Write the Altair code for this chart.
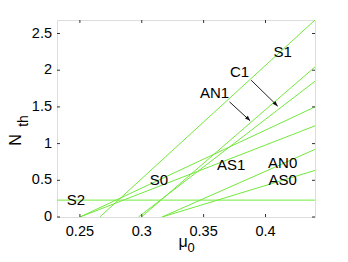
import altair as alt
import pandas as pd

# Threshold lines: each from (mu_a, n_a) to (mu_b, n_b)
names = ["S1", "S0", "C1", "AN1", "AS1", "AN0", "AS0", "S2"]
mu_a = [0.2661, 0.2500, 0.2997, 0.2973, 0.2500, 0.3164, 0.3164, 0.2315]
n_a = [0.0, 0.0, 0.0, 0.0, 0.0, 0.0, 0.0, 0.23]
mu_b = [0.44, 0.44, 0.44, 0.44, 0.44, 0.44, 0.44, 0.44]
n_b = [2.684, 1.50, 2.045, 1.85, 1.242, 0.921, 0.635, 0.23]

# Labels
lab_text = ["S1", "C1", "AN1", "S0", "AS1", "AN0", "AS0", "S2"]
lab_mu = [0.4139, 0.3790, 0.3588, 0.3139, 0.3723, 0.4139, 0.4139, 0.2468]
lab_n = [2.249, 1.977, 1.683, 0.503, 0.707, 0.730, 0.503, 0.231]

# Arrows (start -> end)
arr_mu0 = [0.3884, 0.3709]
arr_n0 = [1.864, 1.569]
arr_mu1 = [0.4099, 0.3876]
arr_n1 = [1.510, 1.310]

x_ticks = [0.25, 0.3, 0.35, 0.4]
x_tick_labels = ["0.25", "0.3", "0.35", "0.4"]
y_ticks = [0.0, 0.5, 1.0, 1.5, 2.0, 2.5]
y_tick_labels = ["0", "0.5", "1", "1.5", "2", "2.5"]

XD = [0.2315, 0.44]
YD = [0, 2.684]
W, H = 258, 197

rows = []
for nm, a, b, c, d in zip(names, mu_a, n_a, mu_b, n_b):
    rows.append({"name": nm, "mu": a, "n": b, "o": 0})
    rows.append({"name": nm, "mu": c, "n": d, "o": 1})
lines_df = pd.DataFrame(rows)
lab_df = pd.DataFrame({"t": lab_text, "mu": lab_mu, "n": lab_n})
arr_df = pd.DataFrame({"mu0": arr_mu0, "n0": arr_n0, "mu1": arr_mu1, "n1": arr_n1})
xt_df = pd.DataFrame({"v": x_ticks, "t": x_tick_labels})
yt_df = pd.DataFrame({"v": y_ticks, "t": y_tick_labels})

xs = alt.Scale(domain=XD, nice=False, zero=False)
ys = alt.Scale(domain=YD, nice=False, zero=False)
FONT = "Liberation Sans"
AX = "#333333"

X = lambda f: alt.X(f, type="quantitative", scale=xs, axis=None)
Y = lambda f: alt.Y(f, type="quantitative", scale=ys, axis=None)

lines = alt.Chart(lines_df).mark_line(color="#72e83c", strokeWidth=1, clip=True).encode(
    x=X("mu"), y=Y("n"), detail="name:N", order="o:Q")

labels = alt.Chart(lab_df).mark_text(font=FONT, fontSize=15, color="black",
                                     align="center", baseline="middle").encode(
    x=X("mu"), y=Y("n"), text="t:N")

shafts = alt.Chart(arr_df).mark_rule(color="#222222", strokeWidth=1).encode(
    x=X("mu0"), y=Y("n0"), x2="mu1:Q", y2="n1:Q")

heads = alt.Chart(arr_df).mark_point(shape="M0,0L-0.38,1L0.38,1Z", filled=True,
                                     color="#111111", size=110, angle=135, opacity=1).encode(
    x=X("mu1"), y=Y("n1"))

# inward ticks on all four sides
xt_bot = alt.Chart(xt_df).mark_rule(color=AX, strokeWidth=1).encode(
    x=X("v"), y=alt.value(H), y2=alt.value(H - 3))
xt_top = alt.Chart(xt_df).mark_rule(color=AX, strokeWidth=1).encode(
    x=X("v"), y=alt.value(0), y2=alt.value(3))
yt_l = alt.Chart(yt_df).mark_rule(color=AX, strokeWidth=1).encode(
    y=Y("v"), x=alt.value(0), x2=alt.value(3))
yt_r = alt.Chart(yt_df).mark_rule(color=AX, strokeWidth=1).encode(
    y=Y("v"), x=alt.value(W), x2=alt.value(W - 3))

# tick labels
xl = alt.Chart(xt_df).mark_text(font=FONT, fontSize=14.5, color="black",
                                align="center", baseline="middle").encode(
    x=X("v"), y=alt.value(H + 15), text="t:N")
yl = alt.Chart(yt_df).mark_text(font=FONT, fontSize=14.5, color="black",
                                align="right", baseline="middle").encode(
    y=Y("v"), x=alt.value(-5), text="t:N")

# axis titles with subscripts
t_df = pd.DataFrame({"a": [0]})
mu_t = alt.Chart(t_df).mark_text(text="μ", font=FONT, fontSize=16, color="black",
                                 align="center", baseline="middle").encode(
    x=alt.value(126), y=alt.value(222))
mu_s = alt.Chart(t_df).mark_text(text="0", font=FONT, fontSize=13, color="black",
                                 align="center", baseline="middle").encode(
    x=alt.value(134), y=alt.value(228))
n_t = alt.Chart(t_df).mark_text(text="N", font=FONT, fontSize=16, color="black",
                                align="center", baseline="middle", angle=270).encode(
    x=alt.value(-41), y=alt.value(120))
n_s = alt.Chart(t_df).mark_text(text="th", font=FONT, fontSize=14, color="black",
                                align="center", baseline="middle", angle=270).encode(
    x=alt.value(-33), y=alt.value(101))

chart = alt.layer(lines, xt_bot, xt_top, yt_l, yt_r, xl, yl, shafts, heads, labels,
                  mu_t, mu_s, n_t, n_s).properties(
    width=W, height=H,
    autosize=alt.AutoSizeParams(type="none"),
    padding={"left": 49, "top": 12, "right": 25, "bottom": 37},
).configure_view(stroke=AX, strokeWidth=1).configure(background="white")

chart.save("out.html", embed_options={"renderer": "svg", "actions": False})
